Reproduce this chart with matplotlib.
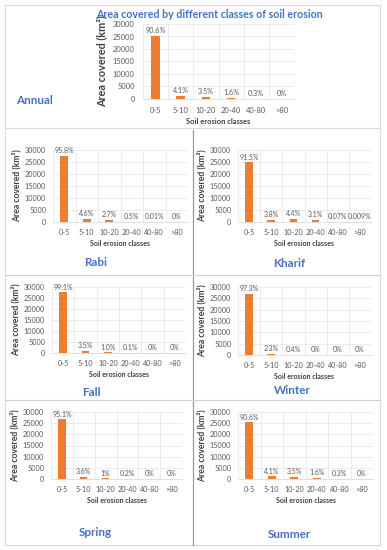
import matplotlib
matplotlib.use('Agg')
import matplotlib.pyplot as plt
from matplotlib.lines import Line2D

plt.rcParams['font.family'] = ['Lato', 'DejaVu Sans']

W, H = 387, 550

classes = ['0-5', '5-10', '10-20', '20-40', '40-80', '>80']

annual = [25300, 1150, 980, 450, 85, 0]
annual_pct = ['90.6%', '4.1%', '3.5%', '1.6%', '0.3%', '0%']
rabi = [27600, 1320, 780, 145, 3, 0]
rabi_pct = ['95.8%', '4.6%', '2.7%', '0.5%', '0.01%', '0%']
kharif = [24800, 1030, 1190, 840, 19, 2]
kharif_pct = ['91.5%', '3.8%', '4.4%', '3.1%', '0.07%', '0.009%']
fall = [27600, 975, 280, 28, 0, 0]
fall_pct = ['99.1%', '3.5%', '1.0%', '0.1%', '0%', '0%']
winter = [27000, 640, 110, 0, 0, 0]
winter_pct = ['97.3%', '2.3%', '0.4%', '0%', '0%', '0%']
spring = [26800, 1015, 280, 56, 0, 0]
spring_pct = ['95.1%', '3.6%', '1%', '0.2%', '0%', '0%']
summer = [25300, 1150, 980, 450, 85, 0]
summer_pct = ['90.6%', '4.1%', '3.5%', '1.6%', '0.3%', '0%']

BAR = '#ED7D31'
GREY = '#595959'
BLUE = '#4472C4'


def box(l, t, r, b):
    return [l / W, 1 - b / H, (r - l) / W, (b - t) / H]


def panel(fig, rect, values, pcts, fs=5.0, lab_fs=6.2, big=False):
    ax = fig.add_axes(box(*rect))
    x = range(len(classes))
    ax.bar(x, values, width=0.34, color=BAR, zorder=3)
    for i, (v, p) in enumerate(zip(values, pcts)):
        ax.text(i, v + 700, p, ha='center', va='bottom', fontsize=fs, color=GREY)
    ax.set_xlim(-0.5, 5.5)
    ax.set_ylim(0, 30000)
    ax.set_yticks(range(0, 30001, 5000))
    ax.set_xticks(list(x))
    ax.set_xticklabels(classes)
    ax.set_xticks([i - 0.5 for i in range(7)], minor=True)
    ax.tick_params(which='both', length=0, labelsize=fs + 0.2, colors=GREY, pad=6 if big else 5)
    ax.grid(axis='y', color='#E4E4E4', linewidth=0.5, zorder=0)
    ax.grid(axis='x', which='minor', color='#E4E4E4', linewidth=0.5, zorder=0)
    for s in ['top', 'right', 'left']:
        ax.spines[s].set_visible(False)
    ax.spines['bottom'].set_color('#D9D9D9')
    ax.spines['bottom'].set_linewidth(0.6)
    ax.set_xlabel('Soil erosion classes', fontsize=lab_fs - 1.2, color='#404040',
                  fontweight='bold', labelpad=3)
    ax.set_ylabel('Area covered (km²)', fontsize=lab_fs + (1.2 if big else 0), color='#404040',
                  fontweight='bold', labelpad=4 if big else 2)
    return ax


fig = plt.figure(figsize=(W / 100, H / 100), dpi=100)

# frame lines
def hline(y, x0, x1, c='#DADADA', lw=0.8):
    fig.add_artist(Line2D([x0 / W, x1 / W], [1 - y / H, 1 - y / H], color=c, lw=lw))


def vline(x, y0, y1, c='#DADADA', lw=0.8):
    fig.add_artist(Line2D([x / W, x / W], [1 - y0 / H, 1 - y1 / H], color=c, lw=lw))


hline(5, 5, 380)
hline(128, 5, 380)
hline(545, 5, 380)
vline(5, 5, 545)
vline(380, 5, 545)
vline(193, 130, 545, c='#999999', lw=0.9)
hline(275, 5, 380, c='#D0D0D0')
hline(400, 5, 380, c='#D0D0D0')

panel(fig, (143, 24, 294, 99), annual, annual_pct, fs=5.2, lab_fs=6.6, big=True)
fig.text(209 / W, 1 - 14 / H, 'Area covered by different classes of soil erosion',
         ha='center', va='center', fontsize=7.7, fontweight='bold', color=BLUE)
fig.text(35 / W, 1 - 101 / H, 'Annual', ha='center', va='center', fontsize=8.4,
         fontweight='bold', color=BLUE)

panel(fig, (53, 150, 188, 222), rabi, rabi_pct)
panel(fig, (238, 150, 371, 222), kharif, kharif_pct)
panel(fig, (52, 287, 186, 353), fall, fall_pct)
panel(fig, (238, 287, 371, 355), winter, winter_pct)
panel(fig, (51, 412, 182, 479), spring, spring_pct)
panel(fig, (238, 412, 373, 479), summer, summer_pct)

for name, x, y in [('Rabi', 96, 262), ('Kharif', 289, 263), ('Fall', 91, 393),
                   ('Winter', 292, 391), ('Spring', 95, 532), ('Summer', 289, 535)]:
    fig.text(x / W, 1 - y / H, name, ha='center', va='center', fontsize=8.4,
             fontweight='bold', color=BLUE)

fig.savefig('out.png', dpi=100, facecolor='white')
